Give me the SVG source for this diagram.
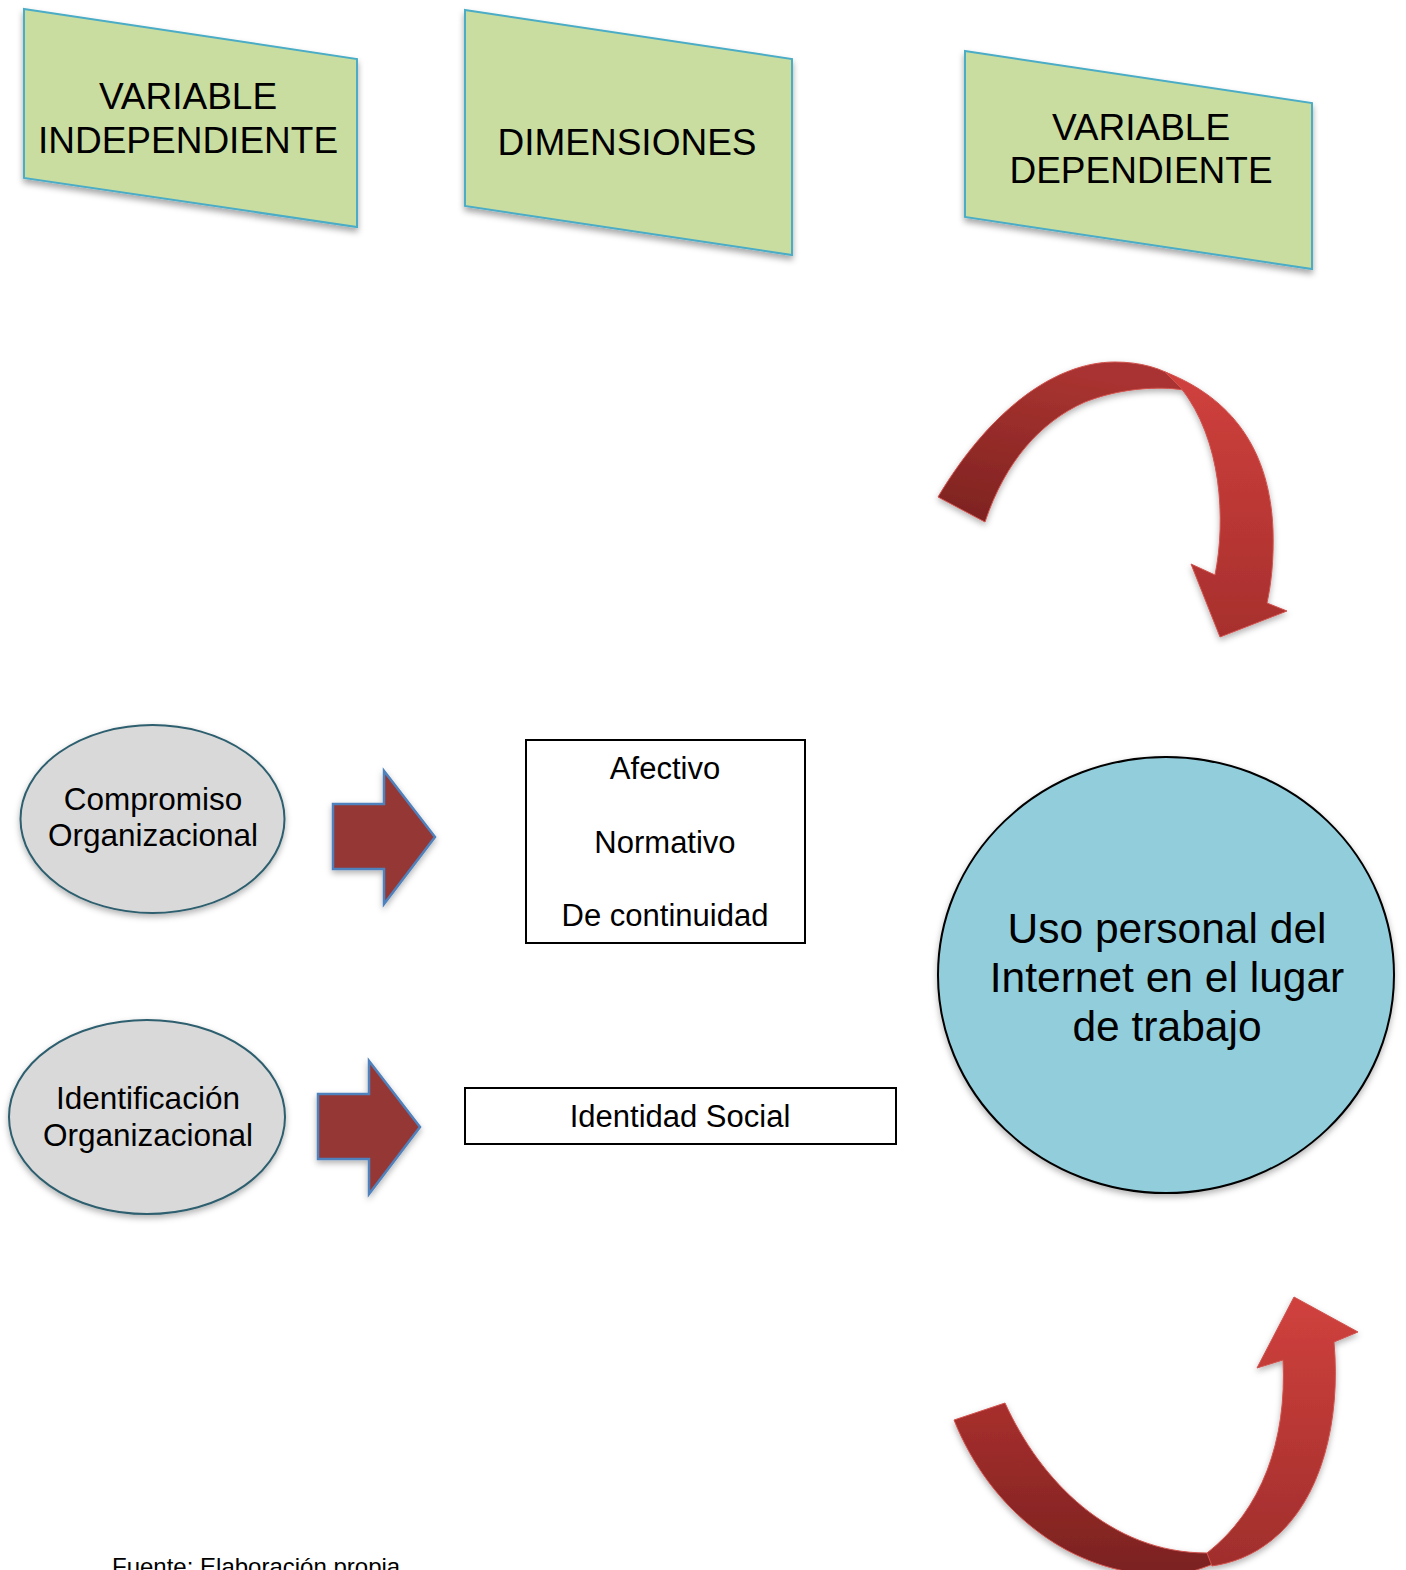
<svg xmlns="http://www.w3.org/2000/svg" width="1406" height="1570" viewBox="0 0 1406 1570">
<style>
.t{font-family:"Liberation Sans",Arial,sans-serif;fill:#000;text-anchor:middle}
.para{fill:#CADDA1;stroke:#4BACC6;stroke-width:2}
.ell{fill:#D9D9D9;stroke:#2D5E6E;stroke-width:2}
.box{fill:#fff;stroke:#000;stroke-width:2}
.blk{fill:#953735;stroke:#4F81BD;stroke-width:2.5;stroke-linejoin:miter}
.rib{stroke:#D0524E;stroke-width:1}
</style>
<defs>
<filter id="sh" x="-10%" y="-10%" width="120%" height="130%">
<feDropShadow dx="0" dy="4" stdDeviation="3" flood-color="#000" flood-opacity="0.35"/>
</filter>
<filter id="sh2" x="-10%" y="-10%" width="120%" height="130%">
<feDropShadow dx="0" dy="3" stdDeviation="3" flood-color="#000" flood-opacity="0.3"/>
</filter>
<linearGradient id="gTopL" x1="0" y1="1" x2="0.3" y2="0">
<stop offset="0" stop-color="#7C2220"/><stop offset="1" stop-color="#A93330"/>
</linearGradient>
<linearGradient id="gTopR" x1="0" y1="0" x2="0" y2="1">
<stop offset="0" stop-color="#D0413D"/><stop offset="1" stop-color="#A72F2D"/>
</linearGradient>
<linearGradient id="gBotL" x1="0" y1="0" x2="0" y2="1">
<stop offset="0" stop-color="#A82F2D"/><stop offset="1" stop-color="#7A2220"/>
</linearGradient>
<linearGradient id="gBotR" x1="0" y1="0" x2="0" y2="1">
<stop offset="0" stop-color="#D0413D"/><stop offset="1" stop-color="#A02E2C"/>
</linearGradient>
</defs>
<rect width="1406" height="1570" fill="#fff"/>

<g id="var-independiente">
<polygon class="para" filter="url(#sh)" points="24,9 357,59 357,227 24,178"/>
<text class="t" font-size="37" x="188" y="109">VARIABLE</text>
<text class="t" font-size="37" x="188" y="153">INDEPENDIENTE</text>
</g>
<g id="dimensiones">
<polygon class="para" filter="url(#sh)" points="465,10 792,59 792,255 465,206"/>
<text class="t" font-size="37" x="627" y="155">DIMENSIONES</text>
</g>
<g id="var-dependiente">
<polygon class="para" filter="url(#sh)" points="965,51 1312,103 1312,269 965,217"/>
<text class="t" font-size="37" x="1141" y="140">VARIABLE</text>
<text class="t" font-size="37" x="1141" y="183">DEPENDIENTE</text>
</g>

<g id="compromiso">
<ellipse class="ell" filter="url(#sh2)" cx="152.5" cy="819" rx="132" ry="94"/>
<text class="t" font-size="31.5" x="153" y="810">Compromiso</text>
<text class="t" font-size="31.5" x="153" y="846">Organizacional</text>
</g>
<g id="identificacion">
<ellipse class="ell" filter="url(#sh2)" cx="147" cy="1117" rx="138" ry="97"/>
<text class="t" font-size="31.5" x="148" y="1109">Identificación</text>
<text class="t" font-size="31.5" x="148" y="1146">Organizacional</text>
</g>

<g id="dim-compromiso">
<rect class="box" x="526" y="740" width="279" height="203"/>
<text class="t" font-size="31" x="665" y="779">Afectivo</text>
<text class="t" font-size="31" x="665" y="853">Normativo</text>
<text class="t" font-size="31" x="665" y="926">De continuidad</text>
</g>
<g id="dim-identificacion">
<rect class="box" x="465" y="1088" width="431" height="56"/>
<text class="t" font-size="31" x="680" y="1127">Identidad Social</text>
</g>

<g id="uso-internet">
<ellipse cx="1166" cy="975" rx="228" ry="218" fill="#92CDDC" stroke="#000" stroke-width="2" filter="url(#sh2)"/>
<text class="t" font-size="42.5" x="1167" y="943">Uso personal del</text>
<text class="t" font-size="42.5" x="1167" y="992">Internet en el lugar</text>
<text class="t" font-size="42.5" x="1167" y="1041">de trabajo</text>
</g>

<g id="connectors">
<polygon class="blk" filter="url(#sh2)" points="333,804 384,804 384,771 435,837 384,904 384,869 333,869"/>
<polygon class="blk" filter="url(#sh2)" points="318,1094 369,1094 369,1061 420,1127 369,1194 369,1159 318,1159"/>
<g filter="url(#sh2)">
<path class="rib" fill="url(#gTopL)" d="M938,497 C990,410 1055,362 1115,362 C1140,362 1162,368 1180,380 L1183,390 C1160,386 1120,388 1085,402 C1040,422 1005,462 985,522 Z"/>
<path class="rib" fill="url(#gTopR)" d="M1165,372 C1232,398 1270,450 1273,530 C1274,560 1271,585 1267,603 L1287,611 L1220,637 L1191,564 L1215,575 C1226,520 1222,440 1181,388 Z"/>
</g>
<g filter="url(#sh2)">
<path class="rib" fill="url(#gBotL)" d="M954,1420 C990,1510 1070,1575 1165,1575 C1185,1575 1205,1568 1222,1560 L1207,1553 C1110,1553 1040,1480 1005,1403 Z"/>
<path class="rib" fill="url(#gBotR)" d="M1207,1553 C1262,1510 1287,1440 1283,1360 L1257,1368 L1294,1297 L1358,1332 L1334,1342 C1341,1420 1322,1500 1272,1540 C1252,1556 1232,1563 1212,1566 Z"/>
</g>
</g>

<text class="t" font-size="24" x="112" y="1575" style="text-anchor:start">Fuente: Elaboración propia</text>
</svg>
